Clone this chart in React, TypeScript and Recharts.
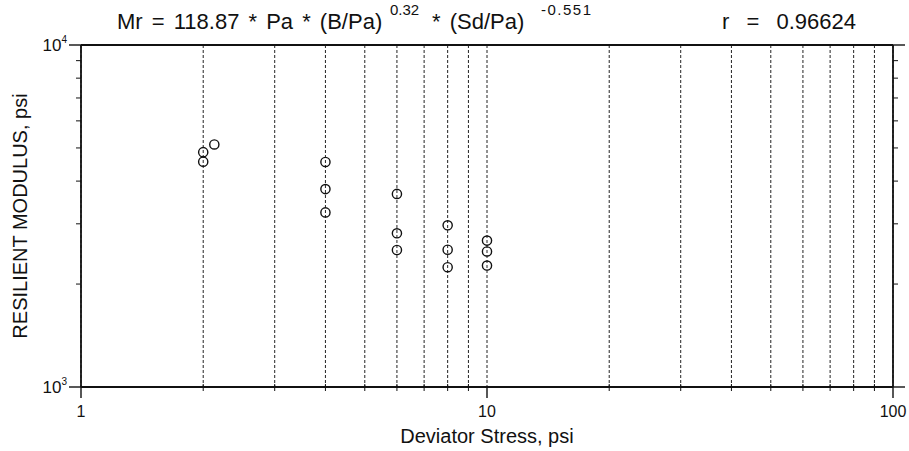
import React from 'react';
import { ScatterChart, Scatter, XAxis, YAxis, CartesianGrid } from 'recharts';

// deviator stress (psi) and resilient modulus (psi)
const stressPsi = [2, 2, 2.13, 4, 4, 4, 6, 6, 6, 8, 8, 8, 10, 10, 10];
const modulusPsi = [4560, 4860, 5120, 4550, 3790, 3240, 3670, 2815, 2515, 2970, 2520, 2240, 2680, 2490, 2265];

const xTicks = [1, 2, 3, 4, 5, 6, 7, 8, 9, 10, 20, 30, 40, 50, 60, 70, 80, 90, 100];
const xMajor = [1, 10, 100];
const yTicks = [1000, 2000, 3000, 4000, 5000, 6000, 7000, 8000, 9000, 10000];
const yMajor = [1000, 10000];
const yMajorLabel: Record<number, string> = { 1000: '3', 10000: '4' };

const points = stressPsi.map((s, i) => ({ stress: s, modulus: modulusPsi[i] }));

const FONT = "'Liberation Sans', Arial, sans-serif";
const INK = '#111';

function BottomTick({ x, y, payload }: any) {
  const v = payload.value;
  const major = xMajor.includes(v);
  return (
    <g>
      <line x1={x} x2={x} y1={major ? y : y - 3} y2={major ? y + 11 : y + 4} stroke={INK} strokeWidth={major ? 1.4 : 1} />
      {major && (
        <text x={x} y={y + 30} textAnchor="middle" fontSize={16} fontFamily={FONT} fill={INK}>
          {v}
        </text>
      )}
    </g>
  );
}

function TopTick({ x, y, payload }: any) {
  const major = xMajor.includes(payload.value);
  return <line x1={x} x2={x} y1={major ? y - 12 : y - 3} y2={major ? y : y + 4} stroke={INK} strokeWidth={major ? 1.4 : 1} />;
}

function LeftTick({ x, y, payload }: any) {
  const v = payload.value;
  const major = yMajor.includes(v);
  return (
    <g>
      <line x1={major ? x - 12 : x - 5} x2={x} y1={y} y2={y} stroke={INK} strokeWidth={major ? 1.4 : 1} />
      {major && (
        <text x={x - 14} y={y + 6} textAnchor="end" fontSize={17} fontFamily={FONT} fill={INK}>
          10
          <tspan dy={-8} fontSize={10}>{yMajorLabel[v]}</tspan>
        </text>
      )}
    </g>
  );
}

function RightTick({ x, y, payload }: any) {
  const major = yMajor.includes(payload.value);
  return <line x1={x} x2={major ? x + 12 : x + 5} y1={y} y2={y} stroke={INK} strokeWidth={major ? 1.4 : 1} />;
}

const Ring = ({ cx, cy }: any) => <circle cx={cx} cy={cy} r={4.6} fill="none" stroke={INK} strokeWidth={1.4} />;

export default function App() {
  return (
    <div style={{ position: 'absolute', left: 0, top: 0, width: 909, height: 451, overflow: 'hidden', background: '#fff' }}>
      <ScatterChart width={909} height={451} margin={{ top: 0, right: 0, bottom: 0, left: 0 }}>
        <CartesianGrid horizontal={false} stroke="#222" strokeDasharray="3 2" xAxisId="bottom" yAxisId="left" />
        <XAxis xAxisId="bottom" dataKey="stress" type="number" scale="log" domain={[1, 100]} allowDataOverflow
          ticks={xTicks} interval={0} height={64} tickSize={0} tickMargin={0} tickLine={false}
          axisLine={{ stroke: INK, strokeWidth: 1.8 }} tick={<BottomTick />} />
        <XAxis xAxisId="top" orientation="top" type="number" scale="log" domain={[1, 100]} allowDataOverflow
          ticks={xTicks} interval={0} height={45} tickSize={0} tickMargin={0} tickLine={false}
          axisLine={{ stroke: INK, strokeWidth: 1.8 }} tick={<TopTick />} />
        <YAxis yAxisId="left" dataKey="modulus" type="number" scale="log" domain={[1000, 10000]} allowDataOverflow
          ticks={yTicks} interval={0} width={81} tickSize={0} tickMargin={0} tickLine={false}
          axisLine={{ stroke: INK, strokeWidth: 1.8 }} tick={<LeftTick />} />
        <YAxis yAxisId="right" orientation="right" type="number" scale="log" domain={[1000, 10000]} allowDataOverflow
          ticks={yTicks} interval={0} width={16} tickSize={0} tickMargin={0} tickLine={false}
          axisLine={{ stroke: INK, strokeWidth: 1.8 }} tick={<RightTick />} />
        <Scatter data={points} xAxisId="bottom" yAxisId="left" shape={<Ring />} isAnimationActive={false} />
      </ScatterChart>

      <svg width={909} height={451} style={{ position: 'absolute', left: 0, top: 0, pointerEvents: 'none' }}>
        <g fontFamily={FONT} fill={INK}>
          <text x={117} y={29} fontSize={22} wordSpacing={3}>
            Mr = 118.87 * Pa * (B/Pa)
            <tspan x={390} dy={-14} fontSize={15}>0.32</tspan>
            <tspan x={432} dy={14}>* (Sd/Pa)</tspan>
            <tspan x={541} dy={-14} fontSize={15} letterSpacing={1.5}>-0.551</tspan>
          </text>
          <text x={722} y={29} fontSize={22} wordSpacing={11}>r = 0.96624</text>
          <text x={487} y={443} textAnchor="middle" fontSize={20}>Deviator Stress, psi</text>
          <text x={27} y={216} textAnchor="middle" fontSize={20} transform="rotate(-90 27 216)">
            RESILIENT MODULUS, psi
          </text>
        </g>
      </svg>
    </div>
  );
}
